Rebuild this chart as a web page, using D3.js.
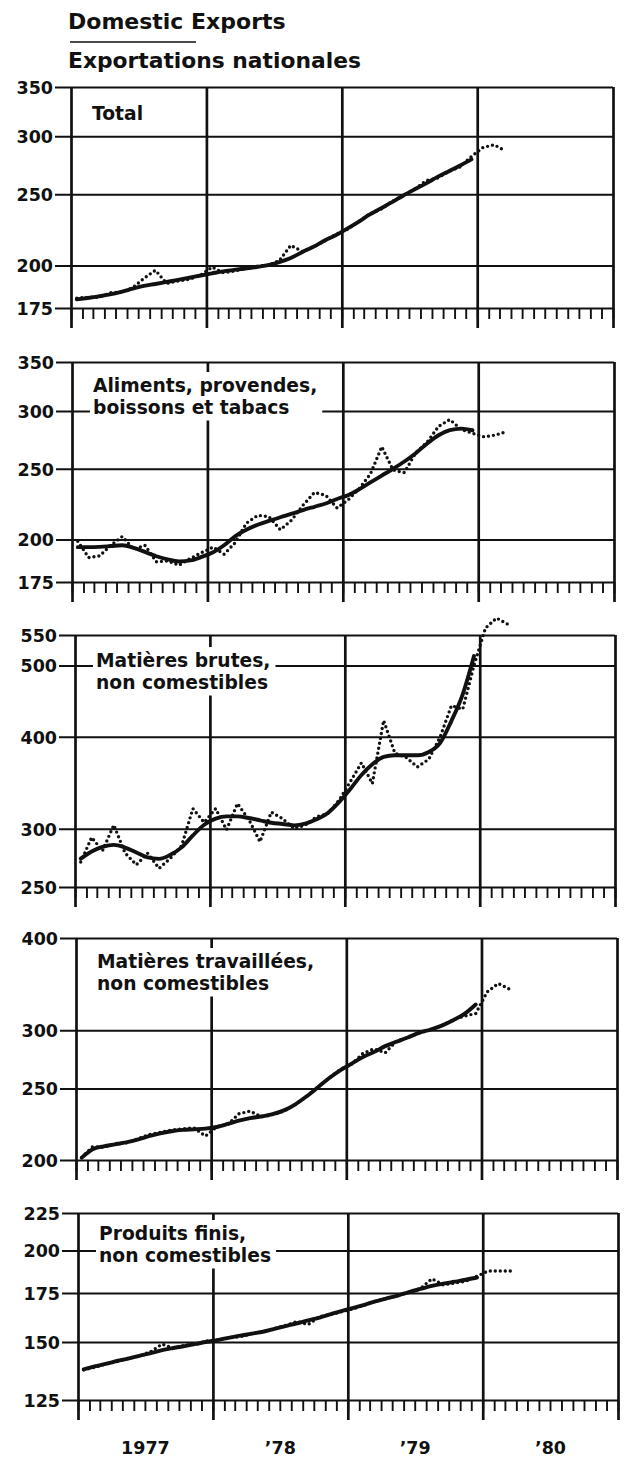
<!DOCTYPE html>
<html lang="fr">
<head>
<meta charset="UTF-8">
<title>Domestic Exports / Exportations nationales</title>
<script src="https://cdn.jsdelivr.net/npm/d3@7"></script>
<style>
  body { margin: 0; background: #fff; }
  svg { display: block; }
  text { font-family: "DejaVu Sans", sans-serif; font-weight: bold; fill: #111; }
</style>
</head>
<body>
<svg id="chart" width="624" height="1466"></svg>
<script>
// monthly points Jan 1977 .. Mar 1980 (raw), Jan 1977 .. Dec 1979 (trend)
const months = d3.timeMonth.range(new Date(1977, 0, 1), new Date(1980, 3, 1));
const yearLabels = ["1977", "\u201978", "\u201979", "\u201980"];
const yearMids = [new Date(1977, 6, 1), new Date(1978, 6, 1), new Date(1979, 6, 1), new Date(1980, 6, 1)];

// Total
const totalTicks = [175, 200, 250, 300, 350];
const totalRaw = [180.5, 181.0, 181.0, 183.5, 184.0, 186.5, 192.0, 197.0, 189.0, 190.5, 191.5, 194.0,
  199.0, 195.5, 196.5, 198.0, 199.5, 200.0, 203.0, 213.0, 209.0, 212.0, 216.0, 220.5,
  224.0, 229.5, 235.0, 238.5, 244.5, 249.0, 254.0, 261.0, 263.0, 268.5, 272.5, 281.5,
  289.5, 292.0, 286.5];
const totalTrend = [179.8, 180.6, 181.5, 182.6, 184.1, 185.9, 187.6, 188.7, 189.9, 191.1, 192.4, 193.8,
  195.1, 196.3, 197.2, 198.1, 199.0, 200.2, 202.1, 204.7, 208.5, 212.0, 216.3, 220.0,
  224.6, 229.3, 234.5, 239.2, 243.9, 249.1, 253.9, 258.7, 264.0, 268.8, 273.6, 278.9];

// Aliments, provendes, boissons et tabacs
const foodTicks = [175, 200, 250, 300, 350];
const foodRaw = [199.0, 189.0, 190.0, 196.5, 202.0, 194.0, 196.5, 186.5, 187.0, 184.5, 188.5, 192.0,
  195.3, 191.0, 198.0, 210.6, 215.9, 215.0, 206.3, 212.8, 223.0, 232.0, 230.0, 221.0,
  227.0, 235.0, 246.0, 268.0, 249.0, 247.0, 263.0, 272.0, 285.7, 292.0, 283.0, 279.6,
  276.5, 278.0, 281.0];
const foodTrend = [195.3, 195.3, 195.5, 196.0, 196.5, 194.9, 192.4, 189.8, 187.9, 186.7, 187.3, 189.4,
  192.2, 196.5, 202.1, 206.3, 209.6, 212.1, 214.6, 217.0, 219.5, 221.8, 224.1, 227.3,
  230.2, 234.5, 239.5, 244.7, 250.0, 255.8, 262.6, 270.8, 277.9, 282.3, 283.7, 282.3];

// Matières brutes, non comestibles
const crudeTicks = [250, 300, 400, 500, 550];
const crudeRaw = [270.3, 292.0, 280.0, 303.5, 278.0, 268.0, 277.8, 265.0, 273.5, 284.5, 319.5, 306.0,
  319.5, 299.0, 324.5, 309.0, 288.0, 316.0, 309.6, 300.0, 303.5, 311.3, 314.6, 328.0,
  348.0, 368.7, 345.5, 421.0, 380.0, 375.0, 364.0, 373.0, 400.0, 441.0, 436.0, 500.0,
  562.0, 580.0, 569.0];
const crudeTrend = [273.2, 279.4, 283.4, 285.2, 282.8, 278.5, 274.2, 273.0, 276.5, 283.0, 293.8, 303.8,
  309.6, 311.8, 311.8, 310.2, 308.0, 305.7, 304.5, 303.2, 304.8, 309.0, 315.2, 326.1,
  340.0, 354.9, 367.0, 375.5, 377.6, 377.6, 377.6, 381.5, 392.4, 420.5, 456.9, 515.0];

// Matières travaillées, non comestibles
const fabTicks = [200, 250, 300, 400];
const fabRaw = [201.5, 208.5, 208.0, 210.5, 211.0, 213.5, 216.5, 218.0, 219.5, 220.5, 221.0, 215.5,
  222.0, 223.5, 231.0, 233.0, 229.0, 230.5, 233.0, 238.0, 244.0, 251.0, 258.5, 265.5,
  270.0, 279.0, 283.0, 279.5, 290.0, 293.0, 297.5, 300.0, 304.5, 310.0, 313.5, 316.0,
  338.0, 347.0, 341.0];
const fabTrend = [201.5, 206.9, 208.7, 210.0, 211.3, 213.1, 215.4, 217.4, 218.8, 219.7, 220.1, 220.6,
  221.7, 223.8, 226.1, 227.9, 229.1, 230.8, 233.5, 238.0, 244.0, 251.0, 258.3, 264.8,
  270.4, 275.9, 280.1, 285.4, 289.3, 293.2, 297.4, 300.6, 304.3, 309.4, 315.6, 325.0];

// Produits finis, non comestibles
const endTicks = [125, 150, 175, 200, 225];
const endRaw = [137.5, 138.5, 140.0, 141.0, 142.5, 143.5, 145.5, 149.0, 147.0, 148.5, 149.0, 150.5,
  151.0, 152.0, 152.5, 154.0, 155.0, 156.5, 158.0, 160.0, 158.5, 162.5, 163.5, 165.0,
  166.5, 168.5, 170.5, 172.0, 173.5, 175.5, 177.5, 183.0, 179.5, 180.5, 181.5, 184.5,
  187.5, 187.5, 187.5];
const endTrend = [137.6, 138.9, 140.0, 141.3, 142.4, 143.6, 144.8, 146.2, 147.2, 148.1, 149.1, 150.1,
  151.0, 152.1, 153.0, 154.0, 154.9, 156.3, 157.7, 159.1, 160.6, 162.0, 163.7, 165.4,
  167.0, 168.6, 170.4, 172.0, 173.6, 175.5, 177.2, 178.9, 180.2, 181.3, 182.4, 183.7];

const panels = [
  { label: ["Total"], ticks: totalTicks, raw: totalRaw, trend: totalTrend,
    top: 87, bottom: 308, left: 71, right: 613, labelY: 33 },
  { label: ["Aliments, provendes,", "boissons et tabacs"], ticks: foodTicks, raw: foodRaw, trend: foodTrend,
    top: 362, bottom: 582, left: 72, right: 614, labelY: 30 },
  { label: ["Matières brutes,", "non comestibles"], ticks: crudeTicks, raw: crudeRaw, trend: crudeTrend,
    top: 635, bottom: 887, left: 75, right: 615, labelY: 32 },
  { label: ["Matières travaillées,", "non comestibles"], ticks: fabTicks, raw: fabRaw, trend: fabTrend,
    top: 938, bottom: 1160, left: 76, right: 617, labelY: 30 },
  { label: ["Produits finis,", "non comestibles"], ticks: endTicks, raw: endRaw, trend: endTrend,
    top: 1213, bottom: 1400, left: 78, right: 618, labelY: 27 }
];

const svg = d3.select("#chart");
svg.append("rect").attr("width", 624).attr("height", 1466).attr("fill", "#fff");

// title
svg.append("text").attr("x", 68).attr("y", 29).attr("font-size", 22).text("Domestic Exports");
svg.append("line").attr("x1", 70).attr("x2", 196).attr("y1", 42).attr("y2", 42)
  .attr("stroke", "#111").attr("stroke-width", 1.6);
svg.append("text").attr("x", 68).attr("y", 68).attr("font-size", 21.8).text("Exportations nationales");

panels.forEach(function(p, idx) {
  var x = d3.scaleTime().domain([new Date(1977, 0, 1), new Date(1981, 0, 1)]).range([p.left, p.right]);
  var y = d3.scaleLog().domain([p.ticks[0], p.ticks[p.ticks.length - 1]]).range([p.bottom, p.top]);
  var mid = function(m) { return (x(m) + x(d3.timeMonth.offset(m, 1))) / 2; };
  var g = svg.append("g");

  // horizontal grid + value labels
  var ya = g.append("g").attr("transform", "translate(" + (p.left - 16) + ",0)")
    .call(d3.axisLeft(y).tickValues(p.ticks).tickFormat(d3.format("d"))
      .tickSize(-(p.right - p.left + 16)).tickPadding(2));
  ya.select(".domain").remove();
  ya.attr("font-family", "DejaVu Sans, sans-serif").attr("font-size", 17.5).attr("font-weight", "bold");
  ya.selectAll("line").attr("stroke", "#111").attr("stroke-width", 2);
  ya.selectAll("text").attr("fill", "#111").attr("dy", "0.36em");

  // monthly ticks
  var ma = g.append("g").attr("transform", "translate(0," + p.bottom + ")")
    .call(d3.axisBottom(x).ticks(d3.timeMonth.every(1)).tickSize(11).tickFormat(""));
  ma.select(".domain").remove();
  ma.selectAll("line").attr("stroke", "#111").attr("stroke-width", 1.9);

  // year lines
  var ye = g.append("g").attr("transform", "translate(0," + (p.bottom + 20) + ")")
    .call(d3.axisBottom(x).ticks(d3.timeYear.every(1)).tickSize(-(p.bottom + 20 - p.top)).tickFormat(""));
  ye.select(".domain").remove();
  ye.selectAll("line").attr("stroke", "#111").attr("stroke-width", 2.7);

  // panel label with white backing
  var lab = g.append("g");
  var box = lab.append("rect").attr("fill", "#fff");
  var t = lab.append("text").attr("x", p.left + 21).attr("y", p.top + p.labelY).attr("font-size", 18.7);
  t.selectAll("tspan").data(p.label).join("tspan")
    .attr("x", p.left + 21).attr("dy", function(d, i) { return i ? 21.5 : 0; })
    .text(function(d) { return d; });
  var bb = t.node().getBBox();
  box.attr("x", bb.x - 3).attr("y", bb.y - 3).attr("width", bb.width + 8).attr("height", bb.height + 6);

  // raw monthly values: dotted
  g.append("path")
    .datum(p.raw)
    .attr("fill", "none").attr("stroke", "#111").attr("stroke-width", 3.4)
    .attr("stroke-linecap", "round").attr("stroke-dasharray", "0 5")
    .attr("d", d3.line().x(function(d, i) { return mid(months[i]); }).y(function(d) { return y(d); }));

  // trend-cycle: solid
  g.append("path")
    .datum(p.trend)
    .attr("fill", "none").attr("stroke", "#111").attr("stroke-width", 3.9)
    .attr("stroke-linejoin", "round").attr("stroke-linecap", "round")
    .attr("d", d3.line().curve(d3.curveMonotoneX)
      .x(function(d, i) { return mid(months[i]); }).y(function(d) { return y(d); }));

  // year labels under the last panel
  if (idx === panels.length - 1) {
    var yl = g.append("g").attr("transform", "translate(0," + (p.bottom + 20) + ")")
      .call(d3.axisBottom(x).tickValues(yearMids).tickSize(0).tickPadding(22)
        .tickFormat(function(d, i) { return yearLabels[i]; }));
    yl.select(".domain").remove();
    yl.attr("font-family", "DejaVu Sans, sans-serif").attr("font-size", 17.5).attr("font-weight", "bold");
    yl.selectAll("text").attr("fill", "#111");
  }
});
</script>
</body>
</html>
